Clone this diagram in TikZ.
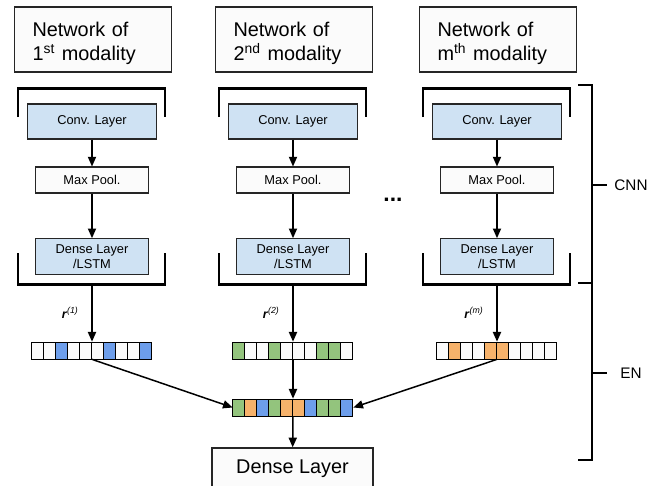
\documentclass[tikz,border=0pt]{standalone}
\usepackage{fontspec}
\setmainfont{Liberation Sans}
\usetikzlibrary{arrows.meta, positioning, calc}
\definecolor{layerblue}{HTML}{CFE2F3}
\definecolor{cellblue}{HTML}{6D9EEB}
\definecolor{cellgreen}{HTML}{93C47D}
\definecolor{cellorange}{HTML}{F6B26B}
\definecolor{paper}{HTML}{FBFBFB}
\definecolor{boxline}{HTML}{262626}

\tikzset{
  titlebox/.style={draw=boxline, line width=0.8pt, fill=paper, minimum height=1.3cm,
    text width=2.42cm, inner xsep=0.36cm, align=left, font=\fontsize{11.3}{13.6}\selectfont},
  convbox/.style={draw=boxline, line width=0.6pt, fill=layerblue, minimum width=2.58cm,
    minimum height=0.7cm, align=center, font=\fontsize{7.3}{8.5}\selectfont},
  densebox/.style={convbox, minimum width=2.26cm},
  poolbox/.style={densebox, fill=paper, minimum height=0.52cm},
  vecbox/.style={minimum width=2.4cm, minimum height=0.34cm, inner sep=0pt},
  cell/.style={draw=black, line width=0.6pt},
  bracket/.style={line width=1.7pt},
  brace/.style={line width=0.8pt},
  link/.style={line width=0.85pt, -{Triangle[length=5.5pt, width=4.6pt]}},
}

\begin{document}
\begin{tikzpicture}[x=0.02cm, y=-0.02cm]
  \clip (0,0) rectangle (660,485);
  \fill[white] (0,0) rectangle (660,485);

  % one column per modality
  \foreach \cx/\k/\ord/\cols in {
      92/1/st/{paper,paper,cellblue,paper,paper,paper,cellblue,paper,paper,cellblue},
      293/2/nd/{cellgreen,paper,paper,cellgreen,paper,paper,paper,cellgreen,cellgreen,paper},
      497/m/th/{paper,cellorange,paper,paper,cellorange,cellorange,paper,paper,paper,paper}} {
    \node[titlebox] (title\k) at (\cx+1,39.5)
      {\rule{0pt}{13pt}Network of\\\k\textsuperscript{\ord} modality};
    \node[convbox] (conv\k) at (\cx,121.5) {Conv. Layer};
    \node[poolbox] (pool\k) at (\cx,180) {Max Pool.};
    \node[densebox] (dense\k) at (\cx,256.5) {Dense Layer\\/LSTM};
    \draw[link] (conv\k) -- (pool\k);
    \draw[link] (pool\k) -- (dense\k);
    % CNN brackets
    \draw[bracket] (\cx-74,117) -- (\cx-74,88) -- (\cx+73,88) -- (\cx+73,117);
    \draw[bracket] (\cx-74,253) -- (\cx-74,284) -- (\cx+73,284) -- (\cx+73,253);
    \coordinate (out\k) at (\cx,284);
    % representation vector
    \node[vecbox] (vec\k) at (\cx,350.5) {};
    \draw[link] (out\k) -- (vec\k);
    \foreach \col [count=\i from 0] in \cols
      \draw[cell, fill=\col] ($(vec\k.south west)+(\i*12,0)$) rectangle ++(12,-17);
    \node[anchor=east, font=\fontsize{7}{7}\selectfont] (r\k) at (\cx-7,313)
      {\textbf{\textit{r}}\textsuperscript{\textit{(\k)}}};
  }

  \node[font=\bfseries\fontsize{13}{13}\selectfont, anchor=base] (dots) at (393,201) {...};

  % fused vector and output layer
  \node[vecbox] (fused) at (293,407.5) {};
  \node[draw=boxline, line width=0.8pt, fill=paper, minimum width=3.22cm, minimum height=0.84cm,
    font=\fontsize{11.3}{13.6}\selectfont] (outlayer) at (292.5,469) {Dense Layer};
  \draw[link] (vec1.south) -- (fused.west);
  \draw[link] (vec2) -- (fused);
  \draw[link] (vecm.south) -- (fused.east);
  \draw[link] (fused) -- (outlayer);
  \foreach \col [count=\i from 0] in {cellgreen,cellorange,cellblue,cellgreen,cellorange,
      cellorange,cellblue,cellgreen,cellgreen,cellblue}
    \draw[cell, fill=\col] ($(fused.south west)+(\i*12,0)$) rectangle ++(12,-17);

  % CNN / EN brace
  \draw[brace] (578,85) -- (592,85) -- (592,460) -- (578,460);
  \draw[brace] (578,283) -- (592,283);
  \draw[brace] (592,185) -- (607,185);
  \draw[brace] (592,373) -- (607,373);
  \node[font=\fontsize{8.7}{10}\selectfont] (cnn) at (631,185) {CNN};
  \node[font=\fontsize{8.7}{10}\selectfont] (en) at (631,373) {EN};
\end{tikzpicture}
\end{document}
